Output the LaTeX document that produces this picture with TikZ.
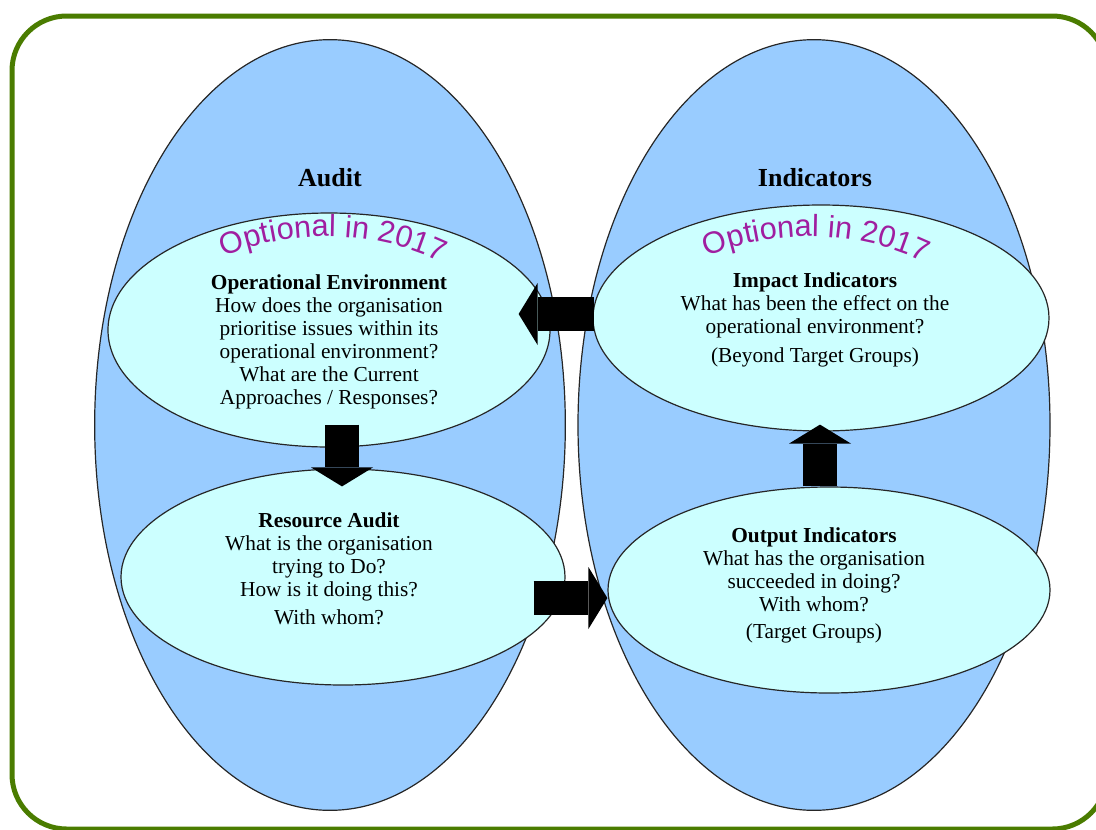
\documentclass[tikz,border=0pt]{standalone}
\usepackage{fontspec}
\setmainfont{Liberation Serif}
\setsansfont{Liberation Sans}
\usetikzlibrary{shapes.geometric,arrows.meta,decorations.text}
\definecolor{framegreen}{RGB}{74,124,0}
\definecolor{outerblue}{RGB}{153,204,255}
\definecolor{innercyan}{RGB}{204,255,255}
\definecolor{optmag}{RGB}{160,30,160}
\newcommand\optfont{\sffamily\fontsize{23}{26}\selectfont}

\begin{document}
\begin{tikzpicture}[x=0.75pt,y=-0.75pt,
    bigell/.style={draw=black!85,line width=0.9pt,ellipse,fill=outerblue,minimum height=578pt,inner sep=0pt},
    smallell/.style={draw=black!85,line width=0.9pt,ellipse,fill=innercyan,inner sep=0pt},
    txt/.style={align=center,inner sep=0pt,font=\fontsize{16}{17.25}\selectfont},
    head/.style={inner sep=0pt,font=\fontsize{19.5}{22}\selectfont\bfseries},
    blockarr/.style={draw=black,line width=25.5pt,-{Triangle[width=46.5pt,length=14.25pt,line width=0pt]}},
    optional/.style={decorate,decoration={text along path,text align=center,text color=optmag,text={|\optfont|Optional in 2017}}}]
    \useasboundingbox (0,0) rectangle (1096,829);
    \clip (0,0) rectangle (1096,829);
    \draw[framegreen,line width=3.75pt,rounded corners=41pt] (12,16) rectangle (1107,829);

    % the two big ovals
    \node[bigell,minimum width=353pt] (audit) at (330,425) {};
    \node[bigell,minimum width=354pt] (ind) at (814,425) {};
    \node[head] (audittitle) at ([shift={(0,-247)}]audit.center) {Audit};
    \node[head] (indtitle) at ([shift={(1,-247)}]ind.center) {Indicators};

    % inner ovals
    \node[smallell,minimum width=331.5pt,minimum height=175.5pt] (openv) at (329,330) {};
    \node[smallell,minimum width=333pt,minimum height=162pt] (resaud) at (343,577) {};
    \node[smallell,minimum width=342pt,minimum height=169.5pt] (impind) at (821,318) {};
    \node[smallell,minimum width=331.5pt,minimum height=154.5pt] (outind) at (829,590) {};

    \path[optional] ([shift={(-110,46)}]openv.north) .. controls ([shift={(-40,16)}]openv.north) and ([shift={(46,16)}]openv.north) .. ([shift={(117,52)}]openv.north);
    \path[optional] ([shift={(-119,54)}]impind.north) .. controls ([shift={(-49,24)}]impind.north) and ([shift={(37,24)}]impind.north) .. ([shift={(108,60)}]impind.north);

    \node[txt] (openvtxt) at ([shift={(0,12)}]openv.center) {\textbf{Operational Environment}\\How does the organisation\\prioritise issues within its\\operational environment?\\What are the Current\\Approaches / Responses?};
    \node[txt] (resaudtxt) at ([shift={(-14,-8)}]resaud.center) {\textbf{Resource Audit}\\What is the organisation\\trying to Do?\\How is it doing this?\\[4pt]With whom?};
    \node[txt] (impindtxt) at ([shift={(-6,2)}]impind.center) {\textbf{Impact Indicators}\\What has been the effect on the\\operational environment?\\[4pt](Beyond Target Groups)};
    \node[txt] (outindtxt) at ([shift={(-15,-5)}]outind.center) {\textbf{Output Indicators}\\What has the organisation\\succeeded in doing?\\With whom?\\[3pt](Target Groups)};

    % block arrows
    \draw[blockarr] ([shift={(2,-4)}]impind.west) -- ([shift={(-32,-16)}]openv.east);
    \draw[blockarr] ([shift={(13,-23)}]openv.south) -- ([shift={(-1,18)}]resaud.north);
    \draw[blockarr] ([shift={(-32,21)}]resaud.east) -- ([shift={(0,8)}]outind.west);
    \draw[blockarr] ([shift={(-9,0)}]outind.north) -- ([shift={(-1,-7)}]impind.south);
\end{tikzpicture}
\end{document}
